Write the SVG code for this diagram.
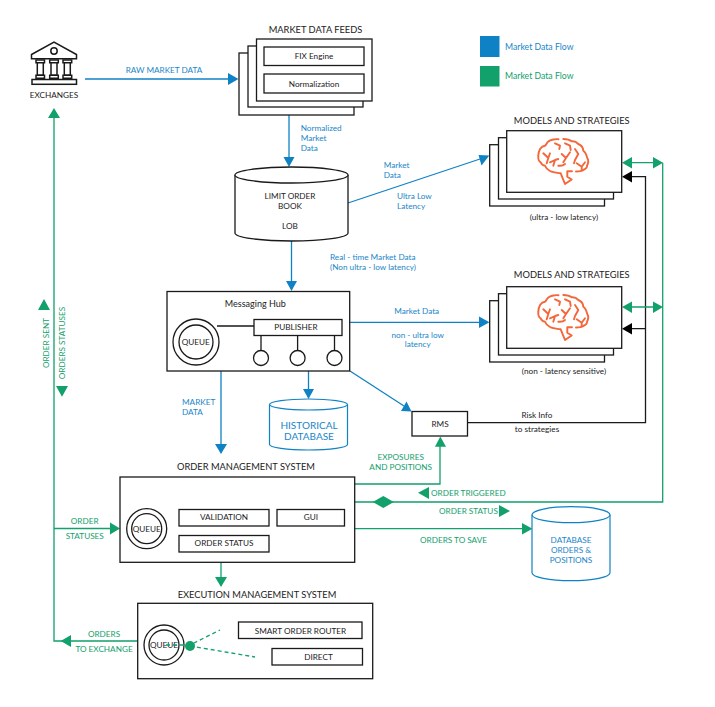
<svg xmlns="http://www.w3.org/2000/svg" width="715" height="707" viewBox="0 0 715 707">
<style>
text{font-family:"Lato","Liberation Sans",sans-serif;font-size:8.2px;fill:#222}
.m{text-anchor:middle}
.t{font-size:9.3px;text-anchor:middle}
.b{fill:#1a86c8}
.g{fill:#12a06b}
.box{fill:#fff;stroke:#1a1a1a;stroke-width:1.3}
.cyl{fill:#fff;stroke:#1a1a1a;stroke-width:1.3}
.bc{fill:#fff;stroke:#0f82c5;stroke-width:1.2}
.ln{fill:none;stroke-width:1.3}
.lb{stroke:#0f82c5}
.lg{stroke:#12a06b}
.lk{stroke:#1a1a1a}
.hb{fill:#0f82c5}
.hg{fill:#12a06b}
.hk{fill:#000}
.brain{fill:none;stroke:#f4673a;stroke-width:1.9;stroke-linecap:round;stroke-linejoin:round}
</style>
<defs>
<g id="brain" class="brain">
<path d="M558.500 139.200C556 138.900 550.500 139.500 548.300 141.500C546.500 143 546 145 545 145.700C541 146 538.500 150.500 538.300 155.700C538 159 539 161.500 540.700 162.300C541.800 165 543 165.500 545 165.700C546 168.500 548 170 550 171C553 172.500 557 172.800 560.700 173.300L565 184L571.700 179.500L567.300 176.700L567.300 171.300L572 171.300M576 171.500C579 171.500 582 171 583.300 170C586 169 587.500 167 587 165.700C589 162 588.500 160 587.300 158C586.500 155 585.500 152 583.300 150.700C583 147 581 145 578.300 144C576 141.500 573.500 141 571.700 141.300C569.500 139.500 566 139 563.300 139"/>
<path d="M543.300 153.300L548.300 158L550 153.300M548.300 158L546.700 163.300"/>
<path d="M550 162.300L555 160L558.300 159M555 160L553.300 165.700"/>
<path d="M555 143.300L560 145.700L559.300 149M565 143.300L570 145.700L570.700 150"/>
<path d="M561.700 154L566 158L570 152.300M566 158L563.300 162.300"/>
<path d="M558.300 165.700C561 166 563.500 165.500 565 164M575 149L578.300 154L575 160L574 163.300"/>
<path d="M576.700 163.300L581.700 166.700L585 162.300M581.700 166.700V170"/>
</g>
<g id="stack">
<rect class="box" x="489.700" y="144.700" width="114.800" height="61.300"/>
<rect class="box" x="498.500" y="137.700" width="115" height="61.300"/>
<rect class="box" x="506.700" y="130.700" width="115" height="61.600"/>
</g>
</defs>
<rect width="715" height="707" fill="#fff"/>

<g id="legend">
<rect x="480" y="36" width="19.500" height="21" fill="#0f82c5"/>
<text class="b" x="505" y="49.500" style="font-size:8.700px">Market Data Flow</text>
<rect x="480" y="66" width="19.500" height="20.500" fill="#12a06b"/>
<text class="g" x="505" y="79" style="font-size:8.700px">Market Data Flow</text>
</g>

<g id="connectors">
<path class="ln lb" d="M85 79H230"/><path class="hb" d="M238.500 79L228 73V85Z"/>
<path class="ln lb" d="M289 115V158"/><path class="hb" d="M289 167L283.500 157H294.500Z"/>
<path class="ln lb" d="M291.500 241V282"/><path class="hb" d="M291.500 291L286 281H297Z"/>
<path class="ln lb" d="M348 203L480 159"/><path class="hb" d="M489.300 155.500L478.500 155L481.500 165.500Z"/>
<path class="ln lb" d="M350 322.300H480"/><path class="hb" d="M489.500 322.300L479 316.500V328Z"/>
<path class="ln lb" d="M221 371V445"/><path class="hb" d="M221 454L215 444H227Z"/>
<path class="ln lb" d="M308.500 371V390"/><path class="hb" d="M308.500 399L303 389H314Z"/>
<path class="ln lb" d="M350 371L404 406"/><path class="hb" d="M411.500 411.500L401 411L406.500 401.500Z"/>
<path class="ln lk" d="M468 422.700H645.500V176.700H630M645.500 328.700H630"/>
<path class="hk" d="M622 176.700L632 171V182.500ZM622 328.700L632 323V334.500Z"/>
<path class="ln lg" d="M630 162.700H655M630 307H655M662.700 162.700V502H355"/>
<path class="hg" d="M622 162.700L632 157V168.500ZM663 162.700L653 157V168.500ZM622 307L632 301.500V313ZM663 307L653 301.500V313Z"/>
<path class="ln lg" d="M355 484H440V446"/><path class="hg" d="M440.300 436.500L435 446.700H446Z"/>
<path class="hg" d="M418 492.700L429 487V499ZM372.800 502L383.300 496L393.800 502L383.300 508ZM510 511L499 505V517Z"/>
<path class="ln lg" d="M355 528.700H524"/><path class="hg" d="M532.500 528.700L522 523V534.500Z"/>
<path class="ln lg" d="M54 117V641H137"/><path class="hg" d="M54 108L48 118H60ZM60.700 641L71 635V647Z"/>
<path class="ln lg" d="M54 528.500H112"/><path class="hg" d="M120 528.500L110 522.500V534.500Z"/>
<path class="ln lg" d="M221 562.500V578"/><path class="hg" d="M221 587L215 577H227Z"/>
<path class="hg" d="M44 299L38 310H50ZM62 396.700L56 386H68Z"/>
</g>

<g class="labels-connectors">
<text class="b m" x="164" y="73">RAW MARKET DATA</text>
<text class="b" x="300.700" y="131">Normalized</text>
<text class="b" x="300.700" y="141">Market</text>
<text class="b" x="300.700" y="151">Data</text>
<text class="b" x="330" y="260">Real - time Market Data</text>
<text class="b" x="330" y="270">(Non ultra - low latency)</text>
<text class="b" x="383.700" y="168">Market</text>
<text class="b" x="383.700" y="178">Data</text>
<text class="b" x="397" y="199">Ultra Low</text>
<text class="b" x="397" y="209">Latency</text>
<text class="b m" x="416.700" y="314">Market Data</text>
<text class="b m" x="417.700" y="337.500">non - ultra low</text>
<text class="b m" x="417.700" y="347">latency</text>
<text class="b" x="182" y="405">MARKET</text>
<text class="b" x="182" y="415">DATA</text>
<text class="m" x="537" y="418">Risk Info</text>
<text class="m" x="537" y="431.700">to strategies</text>
<text class="g m" x="400.700" y="460">EXPOSURES</text>
<text class="g m" x="400.700" y="470">AND POSITIONS</text>
<text class="g" x="431" y="496">ORDER TRIGGERED</text>
<text class="g" x="439" y="514">ORDER STATUS</text>
<text class="g" x="420" y="542.500">ORDERS TO SAVE</text>
<text class="g m" x="84.700" y="524">ORDER</text>
<text class="g m" x="84.700" y="539">STATUSES</text>
<text class="g m" x="104" y="637">ORDERS</text>
<text class="g m" x="104" y="651.500">TO EXCHANGE</text>
<text class="g m" transform="translate(49 343) rotate(-90)">ORDER SENT</text>
<text class="g m" transform="translate(65 343) rotate(-90)">ORDERS STATUSES</text>
</g>

<g id="exchanges">
<g fill="none" stroke="#1a1a1a" stroke-width="1.5">
<path d="M31.500 54.500L54 42L76.500 54.500V58.700H31.500Z"/>
<circle cx="54" cy="51" r="3.200"/>
<path d="M36 60H44.500V62.700H36ZM49.700 60H58.300V62.700H49.700ZM63 60H71.700V62.700H63Z"/>
<path d="M37.300 62.700V75.300H43.300V62.700M51 62.700V75.300H57V62.700M64.300 62.700V75.300H70.300V62.700"/>
<path d="M36 75.300H44.500V78.300H36ZM49.700 75.300H58.300V78.300H49.700ZM63 75.300H71.700V78.300H63Z"/>
<rect x="32" y="79.500" width="44.500" height="4.800"/>
</g>
<text class="m" x="54" y="98">EXCHANGES</text>
</g>

<g id="market-data-feeds">
<text class="t" x="315.500" y="33">MARKET DATA FEEDS</text>
<rect class="box" x="239" y="53" width="115" height="62"/>
<rect class="box" x="248" y="46" width="115" height="61"/>
<rect class="box" x="256.500" y="39" width="115.500" height="62"/>
<rect class="box" x="264" y="47" width="100" height="18.500"/>
<text class="m" x="314" y="59">FIX Engine</text>
<rect class="box" x="264" y="74" width="100" height="19"/>
<text class="m" x="314" y="86.500">Normalization</text>
</g>

<g id="limit-order-book">
<path class="cyl" d="M235 175V233C235 237.500 260 241 291.500 241S348 237.500 348 233V175"/>
<ellipse class="cyl" cx="291.500" cy="175" rx="56.500" ry="8"/>
<text class="m" x="290" y="199">LIMIT ORDER</text>
<text class="m" x="290" y="209">BOOK</text>
<text class="m" x="290" y="229">LOB</text>
</g>

<g id="models-ultra">
<text class="t" x="571.700" y="123.500">MODELS AND STRATEGIES</text>
<use href="#stack"/>
<use href="#brain"/>
<text class="m" x="564" y="220">(ultra - low latency)</text>
</g>

<g id="models-non">
<text class="t" x="571.700" y="278">MODELS AND STRATEGIES</text>
<use href="#stack" y="156"/>
<use href="#brain" y="156"/>
<text class="m" x="564" y="374">(non - latency sensitive)</text>
</g>

<g id="messaging-hub">
<rect class="box" x="167" y="291.500" width="182.700" height="79.500"/>
<text class="m" x="255.300" y="306.500" style="font-size:9px">Messaging Hub</text>
<circle class="box" cx="196" cy="342" r="23"/>
<circle class="box" cx="196" cy="342" r="17"/>
<text class="m" x="195.700" y="345">QUEUE</text>
<path class="ln lk" d="M217 326H254M261 335.500V351M297.600 335.500V351M334.500 335.500V351"/>
<rect class="box" x="254" y="319.500" width="88" height="16"/>
<text class="m" x="296" y="330">PUBLISHER</text>
<circle class="box" cx="261" cy="358" r="7.500"/>
<circle class="box" cx="297.600" cy="358" r="7.500"/>
<circle class="box" cx="334.500" cy="358" r="7.500"/>
</g>

<g id="historical-database">
<path class="bc" d="M269.500 404.500V444.500C269.500 447.500 287 450 308.500 450S347.500 447.500 347.500 444.500V404.500"/>
<ellipse class="bc" cx="308.500" cy="404.500" rx="39" ry="5.500"/>
<text class="b m" x="309" y="428.500" style="font-size:10px">HISTORICAL</text>
<text class="b m" x="309" y="439.500" style="font-size:10px">DATABASE</text>
</g>

<g id="rms">
<rect class="box" x="412" y="411.500" width="55.500" height="24.500"/>
<text class="m" x="440" y="427">RMS</text>
</g>

<g id="order-management-system">
<text class="t" x="246" y="470">ORDER MANAGEMENT SYSTEM</text>
<rect class="box" x="120" y="477" width="234.700" height="85.300"/>
<circle class="box" cx="146.700" cy="528.700" r="20"/>
<circle class="box" cx="146.700" cy="528.700" r="15"/>
<text class="m" x="146.700" y="531.700">QUEUE</text>
<rect class="box" x="179" y="509.500" width="90" height="16.500"/>
<text class="m" x="224" y="520">VALIDATION</text>
<rect class="box" x="277" y="509.500" width="67.500" height="16.500"/>
<text class="m" x="311" y="520">GUI</text>
<rect class="box" x="179" y="535.500" width="90" height="16.500"/>
<text class="m" x="224" y="546">ORDER STATUS</text>
</g>

<g id="database-orders">
<path class="bc" d="M532 514.700V572.700C532 577 549 580.700 571 580.700S610 577 610 572.700V514.700"/>
<ellipse class="bc" cx="571" cy="514.700" rx="39" ry="8"/>
<text class="b m" x="571" y="543">DATABASE</text>
<text class="b m" x="571" y="553">ORDERS &amp;</text>
<text class="b m" x="571" y="563">POSITIONS</text>
</g>

<g id="execution-management-system">
<text class="t" x="257" y="597.500">EXECUTION MANAGEMENT SYSTEM</text>
<rect class="box" x="137.700" y="603.300" width="235" height="75.400"/>
<circle class="box" cx="164" cy="645" r="20"/>
<circle class="box" cx="164" cy="645" r="15"/>
<text class="m" x="164" y="648">QUEUE</text>
<path class="ln lg" stroke-dasharray="4 3" d="M166 645H190L220 630M190 646L255 657"/>
<circle cx="190" cy="646" r="5" fill="#12a06b"/>
<rect class="box" x="238.500" y="622" width="123.500" height="16.500"/>
<text class="m" x="300.500" y="633.500">SMART ORDER ROUTER</text>
<rect class="box" x="272" y="648.500" width="90.500" height="16.500"/>
<text class="m" x="318.500" y="660">DIRECT</text>
</g>
</svg>
